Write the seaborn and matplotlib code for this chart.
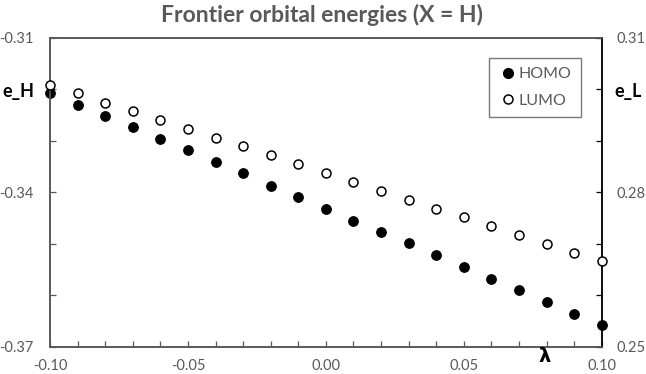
import matplotlib
matplotlib.use("Agg")
import matplotlib.pyplot as plt
import seaborn as sns
import pandas as pd
import numpy as np
from matplotlib.ticker import MultipleLocator, FixedLocator
from matplotlib.lines import Line2D

lam = [-0.10, -0.09, -0.08, -0.07, -0.06, -0.05, -0.04, -0.03, -0.02, -0.01,
       0.00, 0.01, 0.02, 0.03, 0.04, 0.05, 0.06, 0.07, 0.08, 0.09, 0.10]
homo = [-0.3207, -0.3230, -0.3252, -0.3274, -0.3296, -0.3319, -0.3341, -0.3363,
        -0.3387, -0.3410, -0.3432, -0.3455, -0.3477, -0.3499, -0.3522, -0.3545,
        -0.3569, -0.3590, -0.3613, -0.3636, -0.3658]
lumo = [0.3008, 0.2992, 0.2974, 0.2958, 0.2940, 0.2923, 0.2906, 0.2889,
        0.2872, 0.2855, 0.2838, 0.2820, 0.2803, 0.2785, 0.2768, 0.2751,
        0.2734, 0.2717, 0.2699, 0.2682, 0.2666]
x_ticks = [-0.10, -0.05, 0.00, 0.05, 0.10]
left_ticks = [-0.37, -0.34, -0.31]
right_ticks = [0.25, 0.28, 0.31]

sns.set_theme(style="white")
plt.rcParams['font.family'] = ['Lato', 'DejaVu Sans']

df = pd.DataFrame({"lam": lam, "homo": homo, "lumo": lumo})

grey = "#595959"
fig = plt.figure(figsize=(6.46, 3.74), dpi=100)
ax = fig.add_axes([50/646, 1-346.7/374, (601.7-50)/646, (346.7-37.7)/374])
ax2 = ax.twinx()

sns.scatterplot(data=df, x="lam", y="homo", ax=ax, color="black", edgecolor="black",
                s=48, linewidth=0.8, zorder=3, legend=False, clip_on=False)
sns.scatterplot(data=df, x="lam", y="lumo", ax=ax2, facecolor="white", edgecolor="black",
                s=42, linewidth=1.1, zorder=3, legend=False, clip_on=False)

ax.set_xlim(-0.10, 0.10)
ax.set_ylim(-0.37, -0.31)
ax2.set_ylim(0.25, 0.31)

ax.xaxis.set_major_locator(FixedLocator(x_ticks))
ax.xaxis.set_minor_locator(MultipleLocator(0.01))
ax.yaxis.set_major_locator(FixedLocator(left_ticks))
ax.yaxis.set_minor_locator(MultipleLocator(0.01))
ax2.yaxis.set_major_locator(FixedLocator(right_ticks))
ax2.yaxis.set_minor_locator(MultipleLocator(0.01))

ax.set_xticklabels([f"{v:.2f}" for v in x_ticks])
ax.set_yticklabels([f"{v:.2f}" for v in left_ticks])
ax2.set_yticklabels([f"{v:.2f}" for v in right_ticks])

for a in (ax, ax2):
    for s in a.spines.values():
        s.set_color(grey)
        s.set_linewidth(1.2)
ax2.spines['right'].set_color("black")

ax.tick_params(axis='x', which='both', direction='in', length=4, width=0.9,
               colors=grey, labelsize=10.5, pad=9, top=False, bottom=True)
ax.tick_params(axis='y', which='both', direction='in', length=4, width=0.9,
               colors=grey, labelsize=10.5, pad=12, left=True, right=False)
ax2.tick_params(axis='y', which='both', direction='in', length=4, width=0.9,
                colors="black", labelcolor=grey, labelsize=10.5, pad=11, right=True, left=False)

ax.set_xlabel("")
ax.set_ylabel("")
ax2.set_ylabel("")

fig.text(322/646, 1-15/374, "Frontier orbital energies (X = H)", ha="center", va="center",
         fontsize=16.5, fontweight="bold", color=grey)
fig.text(18/646, 1-92/374, "e_H", ha="center", va="center", fontsize=13,
         fontweight="bold", color="black")
fig.text(628/646, 1-92/374, "e_L", ha="center", va="center", fontsize=13,
         fontweight="bold", color="black")
fig.text(545/646, 1-356/374, "λ", ha="center", va="center", fontsize=14,
         fontweight="bold", color="black", family=['DejaVu Sans'])

handles = [Line2D([], [], marker='o', linestyle='none', markerfacecolor='black',
                  markeredgecolor='black', markersize=7),
           Line2D([], [], marker='o', linestyle='none', markerfacecolor='white',
                  markeredgecolor='black', markersize=6.5, markeredgewidth=1.1)]
leg = ax2.legend(handles, ["HOMO", "LUMO"], loc="upper left",
                 bbox_to_anchor=((489.3-50)/551.7, 1-(57.7-37.7)/309),
                 frameon=True, fancybox=False, fontsize=11.5, handletextpad=0.05,
                 handlelength=1.2, labelspacing=0.75, borderpad=0.6, borderaxespad=0)
leg.get_frame().set_edgecolor(grey)
leg.get_frame().set_linewidth(1.0)
for t in leg.get_texts():
    t.set_color(grey)

fig.canvas.draw()
for lab in ax.get_xticklabels() + ax.get_yticklabels():
    lab.set_text(lab.get_text().replace("\u2212", "-"))
ax.set_xticklabels([l.get_text() for l in ax.get_xticklabels()])
ax.set_yticklabels([l.get_text() for l in ax.get_yticklabels()])

fig.savefig("out.png", dpi=100)
